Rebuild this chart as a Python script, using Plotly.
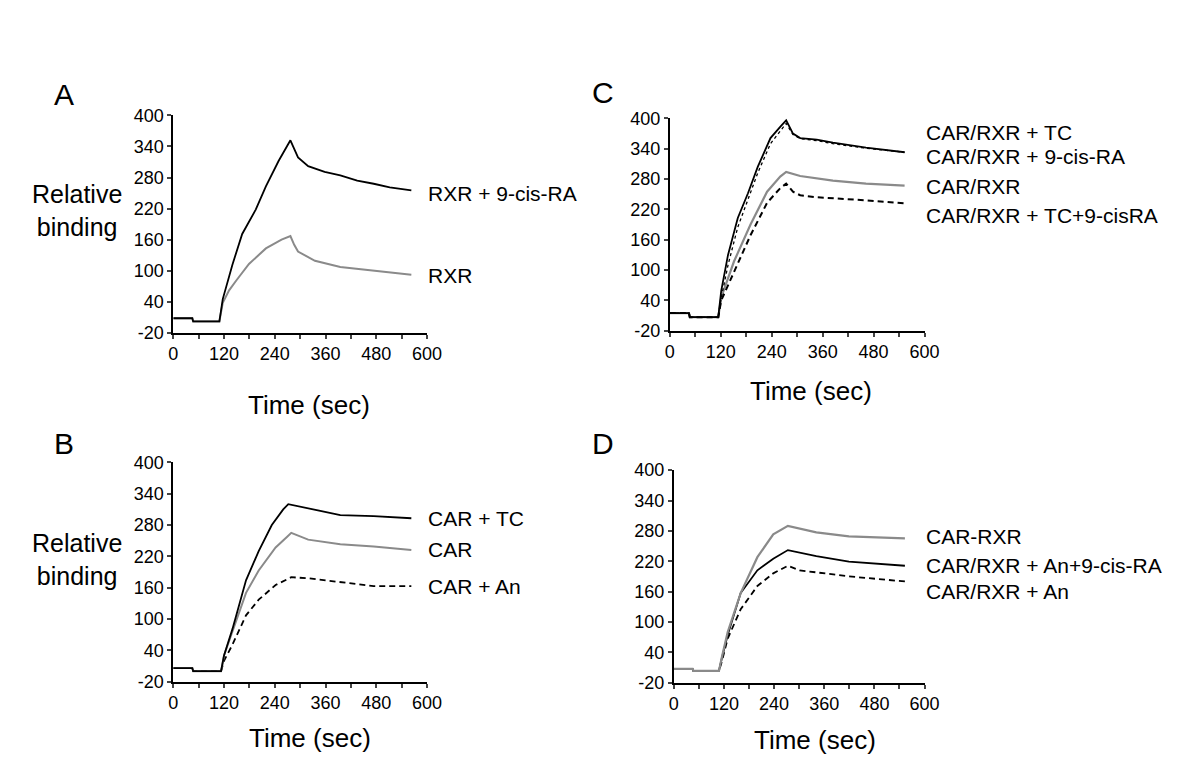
import plotly.graph_objects as go

# ---- data ----
# panel A
a_t_rxr9 = [0, 45, 47, 109, 117, 125, 140, 163, 195, 219, 249, 277, 295, 319, 358, 395, 435, 474, 512, 563]
a_v_rxr9 = [8, 8, 2, 2, 45, 70, 112, 171, 218, 263, 312, 352, 319, 302, 291, 284, 274, 268, 261, 255]
a_t_rxr = [0, 45, 47, 109, 117, 132, 149, 179, 219, 256, 277, 286, 295, 335, 395, 474, 563]
a_v_rxr = [8, 8, 2, 2, 38, 62, 81, 113, 143, 160, 167, 150, 137, 119, 107, 100, 92]

# panel C
c_t_tc = [0, 45, 47, 114, 121, 137, 160, 184, 207, 237, 262, 274, 290, 307, 346, 384, 462, 553]
c_v_tc = [15, 15, 7, 7, 59, 130, 203, 252, 304, 361, 385, 396, 370, 361, 358, 352, 342, 333]
c_t_9cis = [0, 45, 47, 114, 121, 137, 160, 184, 207, 237, 262, 274, 290, 307, 346, 384, 462, 553]
c_v_9cis = [15, 15, 7, 7, 45, 110, 185, 238, 292, 350, 378, 390, 368, 360, 356, 350, 341, 333]
c_t_carrxr = [0, 45, 47, 114, 121, 151, 190, 229, 260, 274, 307, 384, 462, 553]
c_v_carrxr = [15, 15, 7, 7, 46, 117, 190, 255, 285, 294, 286, 277, 271, 267]
c_t_both = [0, 45, 47, 114, 121, 151, 190, 229, 260, 274, 290, 307, 346, 462, 553]
c_v_both = [15, 15, 7, 7, 40, 97, 169, 233, 262, 271, 255, 248, 244, 238, 232]

# panel B
b_t_tc = [0, 45, 47, 113, 120, 140, 172, 202, 233, 260, 272, 319, 395, 474, 563]
b_v_tc = [6, 6, 0, 0, 30, 81, 174, 230, 280, 310, 320, 312, 299, 297, 293]
b_t_car = [0, 45, 47, 113, 120, 140, 172, 202, 242, 270, 279, 319, 395, 474, 563]
b_v_car = [6, 6, 0, 0, 30, 75, 150, 193, 237, 258, 265, 252, 243, 239, 232]
b_t_an = [0, 45, 47, 113, 120, 140, 172, 202, 242, 279, 319, 395, 474, 563]
b_v_an = [6, 6, 0, 0, 20, 51, 107, 137, 165, 180, 178, 170, 163, 163]

# panel D
d_t_carrxr = [0, 45, 47, 108, 115, 129, 160, 200, 238, 262, 273, 341, 419, 553]
d_v_carrxr = [7, 7, 3, 3, 30, 80, 157, 228, 273, 285, 290, 277, 269, 265]
d_t_an9 = [0, 45, 47, 108, 115, 129, 160, 200, 238, 262, 273, 341, 419, 553]
d_v_an9 = [7, 7, 3, 3, 28, 74, 157, 202, 225, 236, 242, 230, 219, 211]
d_t_an = [0, 45, 47, 108, 115, 129, 160, 200, 238, 262, 273, 301, 419, 553]
d_v_an = [7, 7, 3, 3, 22, 67, 125, 171, 196, 206, 211, 202, 190, 180]

x_ticks = [0, 120, 240, 360, 480, 600]
y_ticks = [-20, 40, 100, 160, 220, 280, 340, 400]
y_tick_text = ["-20", "40", "100", "160", "220", "280", "340", "400"]

BLACK = "black"
GRAY = "#8a8a8a"
FONT = "Liberation Sans, Arial, sans-serif"

fig = go.Figure()

def line(t, v, ax, color, dash="solid", width=1.8):
    fig.add_trace(go.Scatter(x=t, y=v, mode="lines", xaxis="x" + ax, yaxis="y" + ax,
                             line=dict(color=color, width=width, dash=dash),
                             showlegend=False, hoverinfo="skip"))

# A = axes 1, C = axes 2, B = axes 3, D = axes 4
line(a_t_rxr, a_v_rxr, "", GRAY, width=2)
line(a_t_rxr9, a_v_rxr9, "", BLACK)
line(c_t_carrxr, c_v_carrxr, "2", GRAY, width=2.2)
line(c_t_both, c_v_both, "2", BLACK, dash="6px,4px", width=2)
line(c_t_9cis, c_v_9cis, "2", BLACK, dash="dot", width=1.3)
line(c_t_tc, c_v_tc, "2", BLACK)
line(b_t_an, b_v_an, "3", BLACK, dash="6px,4px", width=1.8)
line(b_t_car, b_v_car, "3", GRAY, width=2)
line(b_t_tc, b_v_tc, "3", BLACK)
line(d_t_an, d_v_an, "4", BLACK, dash="6px,4px", width=1.8)
line(d_t_an9, d_v_an9, "4", BLACK)
line(d_t_carrxr, d_v_carrxr, "4", GRAY, width=2.2)

W, H = 1200, 784
# pixel boxes of each panel: left, right, top, bottom
boxes = {"": (163, 421, 100, 323), "2": (668, 927, 103, 321),
         "3": (163, 421, 456, 681), "4": (672, 927, 464, 682)}

def xax(dom):
    return dict(domain=dom, range=[0, 600], tickvals=x_ticks, ticks="outside", ticklen=4,
                tickwidth=1.5, minor=dict(dtick=60, tick0=0, ticks="outside", ticklen=4, tickwidth=1.5),
                showline=True, linewidth=2, linecolor="black", showgrid=False, zeroline=False,
                tickfont=dict(size=18, color="black", family=FONT), fixedrange=True)

def yax(dom, anchor):
    return dict(domain=dom, range=[-20, 400], tickvals=y_ticks, ticktext=y_tick_text,
                ticks="outside", ticklen=4, tickwidth=1.5, showline=True, linewidth=2,
                linecolor="black", showgrid=False, zeroline=False, anchor=anchor,
                tickfont=dict(size=18, color="black", family=FONT), fixedrange=True)

layout = dict(width=W, height=H, margin=dict(l=0, r=0, t=0, b=0),
              paper_bgcolor="white", plot_bgcolor="white", font=dict(family=FONT, color="black"))
for ax, (l, r, t, b) in boxes.items():
    xd = [l / W, r / W]
    yd = [1 - b / H, 1 - t / H]
    xa = xax(xd)
    xa["anchor"] = "y" + ax
    layout["xaxis" + ax] = xa
    layout["yaxis" + ax] = yax(yd, "x" + ax)
fig.update_layout(**layout)

# curve labels (text, y position in data units)
labels = {
    "": [("RXR + 9-cis-RA", 249), ("RXR", 91)],
    "2": [("CAR/RXR + TC", 373), ("CAR/RXR + 9-cis-RA", 324), ("CAR/RXR", 265),
          ("CAR/RXR + TC+9-cisRA", 207)],
    "3": [("CAR + TC", 293), ("CAR", 234), ("CAR + An", 163)],
    "4": [("CAR-RXR", 269), ("CAR/RXR + An+9-cis-RA", 211), ("CAR/RXR + An", 161)],
}
for ax, items in labels.items():
    for txt, yv in items:
        fig.add_annotation(text=txt, xref="x" + ax + " domain", yref="y" + ax, x=1.0, y=yv,
                           xanchor="left", yanchor="middle", showarrow=False, borderpad=0,
                           font=dict(size=21, color="black", family=FONT))

def paper_text(txt, px, py, size):
    fig.add_annotation(text=txt, xref="paper", yref="paper", x=px / W, y=1 - py / H,
                       xanchor="center", yanchor="middle", showarrow=False,
                       font=dict(size=size, color="black", family=FONT))

# panel letters
paper_text("A", 52, 78, 30)
paper_text("C", 600, 76, 30)
paper_text("B", 52, 437, 30)
paper_text("D", 600, 437, 30)

# y titles
paper_text("Relative<br>binding", 65, 198, 25)
paper_text("Relative<br>binding", 65, 556, 25)

# x titles
paper_text("Time (sec)", 301, 397, 26)
paper_text("Time (sec)", 812, 383, 26)
paper_text("Time (sec)", 302, 739, 26)
paper_text("Time (sec)", 816, 741, 26)

fig.write_html("out.html")
